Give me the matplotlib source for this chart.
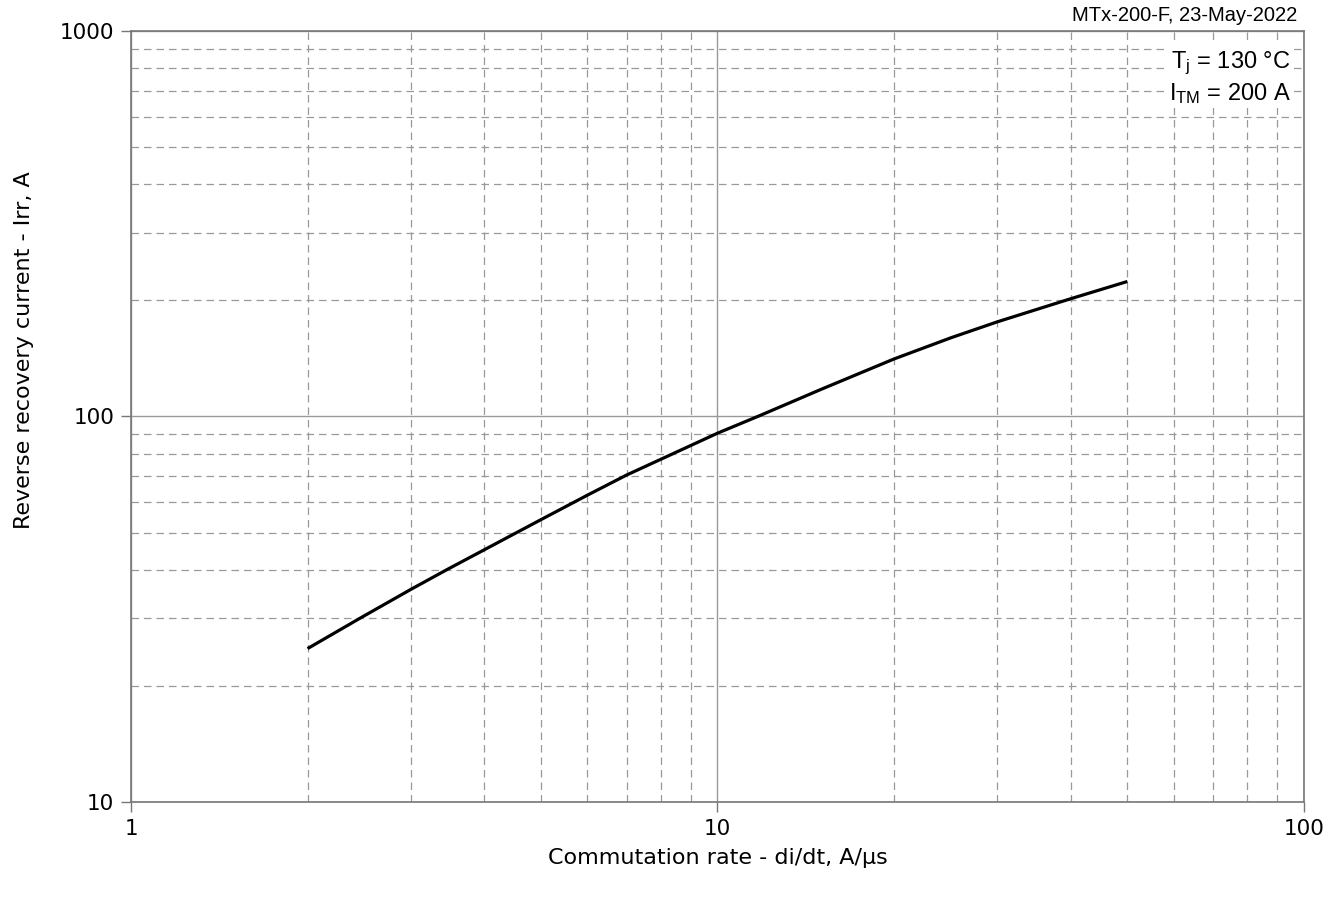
import numpy as np
import matplotlib
matplotlib.use("Agg")
import matplotlib.pyplot as plt
from matplotlib.ticker import LogLocator, FixedLocator, NullFormatter

# Irr vs di/dt
didt = [2, 2.46, 3, 3.45, 5, 6, 7, 10, 11.8, 15, 20, 25, 30, 40, 50]
irr = [25, 30, 35.6, 40, 54, 62.5, 70.5, 90.5, 100.5, 117.5, 141, 160, 176, 202, 224]

x_ticks = [1, 10, 100]
y_ticks = [10, 100, 1000]
x_labels = ["1", "10", "100"]
y_labels = ["10", "100", "1000"]

plt.rcParams["mathtext.fontset"] = "custom"
plt.rcParams["mathtext.rm"] = "Liberation Sans"
plt.rcParams["mathtext.it"] = "Liberation Sans"

fig = plt.figure(figsize=(13.44, 9.01), dpi=100)
ax = fig.add_axes([0.0975, 0.1099, 0.8727, 0.8557])

ax.plot(didt, irr, color="black", lw=2.3, solid_capstyle="butt",
        solid_joinstyle="round", zorder=3)

ax.set_xscale("log"); ax.set_yscale("log")
ax.set_xlim(1, 100); ax.set_ylim(10, 1000)

ax.xaxis.set_major_locator(FixedLocator(x_ticks))
ax.yaxis.set_major_locator(FixedLocator(y_ticks))
ax.set_xticklabels(x_labels); ax.set_yticklabels(y_labels)
ax.xaxis.set_minor_locator(LogLocator(base=10, subs=np.arange(2, 10)))
ax.yaxis.set_minor_locator(LogLocator(base=10, subs=np.arange(2, 10)))
ax.xaxis.set_minor_formatter(NullFormatter())
ax.yaxis.set_minor_formatter(NullFormatter())

ax.grid(True, which="major", color="#999999", lw=1.0, ls="-")
ax.grid(True, which="minor", color="#999999", lw=0.9, ls=(0, (6, 4)))
ax.tick_params(which="major", direction="out", length=7, width=1,
               color="#777777", labelsize=15.5, pad=5)
ax.tick_params(which="minor", length=0)
for s in ax.spines.values():
    s.set_color("#777777"); s.set_linewidth(1.2)

ax.set_xlabel("Commutation rate - di/dt, A/\u00b5s", fontsize=16,
              family="DejaVu Sans")
ax.set_ylabel("Reverse recovery current - Irr, A", fontsize=16,
              family="DejaVu Sans")
ax.xaxis.set_label_coords(0.5, -0.06)
ax.yaxis.set_label_coords(-0.083, 0.586)

fig.text(0.965, 0.972, "MTx-200-F, 23-May-2022", ha="right", va="bottom",
         fontsize=14.5, family="Liberation Sans")
ax.text(0.9885, 0.976, "T$_\\mathrm{j}$ = 130 \u00b0C\nI$_\\mathrm{TM}$ = 200 A",
        transform=ax.transAxes, ha="right", va="top", fontsize=17,
        family="Liberation Sans", linespacing=1.2,
        bbox=dict(facecolor="white", edgecolor="none", pad=2), zorder=4)

fig.savefig("out.png", dpi=100)
